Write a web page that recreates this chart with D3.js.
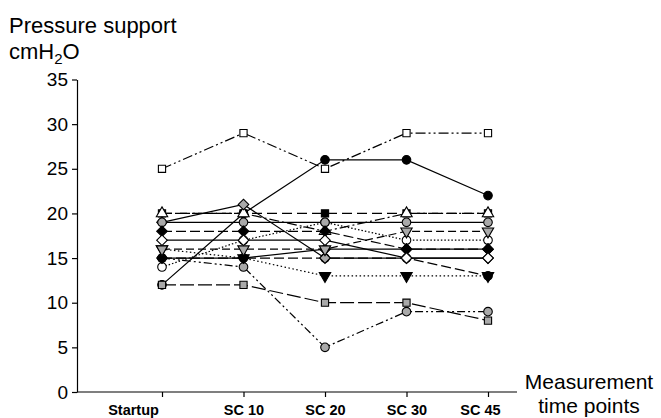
<!DOCTYPE html>
<html>
<head>
<meta charset="utf-8">
<script src="https://cdn.jsdelivr.net/npm/d3@7"></script>
<style>
  body { margin: 0; background: #fff; }
  text { font-family: "Liberation Sans", Arial, Helvetica, sans-serif; fill: #000; }
</style>
</head>
<body>
<svg id="chart"></svg>
<script>
// time points on the x axis
const timePoints = ['Startup', 'SC 10', 'SC 20', 'SC 30', 'SC 45'];
const yTicks = [0, 5, 10, 15, 20, 25, 30, 35];

// pressure support per patient (cmH2O)
const sqBlack      = [20, 20, 20, 20, 20];
const circBlack    = [12, 20, 26, 26, 22];
const triWhite     = [20, 20, 18, 20, 20];
const circWhite    = [14, 17, 19, 17, 17];
const triDownBlack = [16, 15, 13, 13, 13];
const circBlack2   = [15, 15, 15, 15, 13];
const diamondGray  = [19, 21, 15, 15, 15];
const circGray     = [19, 19, 19, 19, 19];
const circGray2    = [15, 14, 5, 9, 9];
const diamondBlack = [18, 18, 18, 16, 16];
const diamondBlack2 = [15, 15, 16, 16, 16];
const triDownGray  = [16, 16, 16, 18, 18];
const diamondWhite = [17, 17, 17, 15, 15];
const sqGray       = [12, 12, 10, 10, 8];
const sqWhite      = [25, 29, 25, 29, 29];

// drawing order matters, later series sit on top
const series = [
  { values: sqBlack,       shape: 'square',  fill: '#000', dash: '10,5' },
  { values: circBlack,     shape: 'circle',  fill: '#000', dash: null },
  { values: triWhite,      shape: 'tri',     fill: '#fff', dash: '10,3,2,3' },
  { values: circWhite,     shape: 'circle',  fill: '#fff', dash: '1.5,2' },
  { values: triDownBlack,  shape: 'triDown', fill: '#000', dash: '1.5,2.5' },
  { values: circBlack2,    shape: 'circle',  fill: '#000', dash: '10,4' },
  { values: diamondGray,   shape: 'diamond', fill: '#a9a9a9', dash: null },
  { values: circGray,      shape: 'circle',  fill: '#a9a9a9', dash: null },
  { values: circGray2,     shape: 'circle',  fill: '#a9a9a9', dash: '8,3,2,3,2,3' },
  { values: diamondBlack,  shape: 'diamond', fill: '#000', dash: '10,4' },
  { values: diamondBlack2, shape: 'diamond', fill: '#000', dash: null },
  { values: triDownGray,   shape: 'triDown', fill: '#a9a9a9', dash: '8,4' },
  { values: diamondWhite,  shape: 'diamond', fill: '#fff', dash: null },
  { values: sqGray,        shape: 'square',  fill: '#a9a9a9', dash: '14,4' },
  { values: sqWhite,       shape: 'square',  fill: '#fff', dash: '10,3,2,3,2,3' }
];

const width = 661, height = 418;
const svg = d3.select('#chart').attr('width', width).attr('height', height);

const x = d3.scalePoint().domain(timePoints).range([162, 488]);
const y = d3.scaleLinear().domain([0, 35]).range([392, 79.5]);

// titles
const title = svg.append('text').attr('x', 9).attr('y', 33).attr('font-size', '22px');
title.text('Pressure support');
const unit = svg.append('text').attr('x', 9).attr('y', 59).attr('font-size', '22px');
unit.append('tspan').text('cmH');
unit.append('tspan').attr('dy', 5).attr('font-size', '15px').text('2');
unit.append('tspan').attr('dy', -5).text('O');

svg.append('text').attr('x', 589).attr('y', 389).attr('font-size', '21px')
  .attr('text-anchor', 'middle').text('Measurement');
svg.append('text').attr('x', 589).attr('y', 413).attr('font-size', '21px')
  .attr('text-anchor', 'middle').text('time points');

// y axis
const yAxis = svg.append('g')
  .attr('transform', 'translate(77,0)')
  .call(d3.axisLeft(y).tickValues(yTicks).tickSize(5).tickSizeOuter(0).tickPadding(4));
yAxis.selectAll('text').attr('font-size', '19px').attr('font-family', null);
yAxis.selectAll('line, path').attr('stroke', '#000').attr('stroke-width', 1.2);

// x axis
const xAxis = svg.append('g')
  .attr('transform', 'translate(0,392)')
  .call(d3.axisBottom(x).tickSize(5).tickSizeOuter(0).tickPadding(8));
xAxis.select('.domain').remove();
xAxis.append('line').attr('x1', 77).attr('x2', 517).attr('stroke', '#000').attr('stroke-width', 1.2);
xAxis.selectAll('line').attr('stroke', '#000').attr('stroke-width', 1.2);
const labelShift = { 'Startup': -29, 'SC 45': -8 };
xAxis.selectAll('text')
  .attr('font-size', '14.5px').attr('font-weight', 'bold').attr('font-family', null)
  .attr('dx', d => labelShift[d] || 0);

const symbols = {
  square:  { type: d3.symbolSquare, size: 52, rot: 0 },
  circle:  { type: d3.symbolCircle, size: 58, rot: 0 },
  tri:     { type: d3.symbolTriangle, size: 56, rot: 0 },
  triDown: { type: d3.symbolTriangle, size: 56, rot: 180 },
  diamond: { type: d3.symbolSquare, size: 56, rot: 45 }
};

const line = d3.line()
  .x((d, i) => x(timePoints[i]))
  .y(d => y(d));

const plot = svg.append('g');
series.forEach(s => {
  const g = plot.append('g');
  g.append('path')
    .attr('d', line(s.values))
    .attr('fill', 'none')
    .attr('stroke', '#000')
    .attr('stroke-width', 1.2)
    .attr('stroke-dasharray', s.dash);
  const sym = symbols[s.shape];
  g.selectAll('path.mark')
    .data(s.values)
    .join('path')
    .attr('class', 'mark')
    .attr('d', d3.symbol().type(sym.type).size(sym.size))
    .attr('transform', (d, i) => `translate(${x(timePoints[i])},${y(d)}) rotate(${sym.rot})`)
    .attr('fill', s.fill)
    .attr('stroke', '#000')
    .attr('stroke-width', 1.1);
});
</script>
</body>
</html>
